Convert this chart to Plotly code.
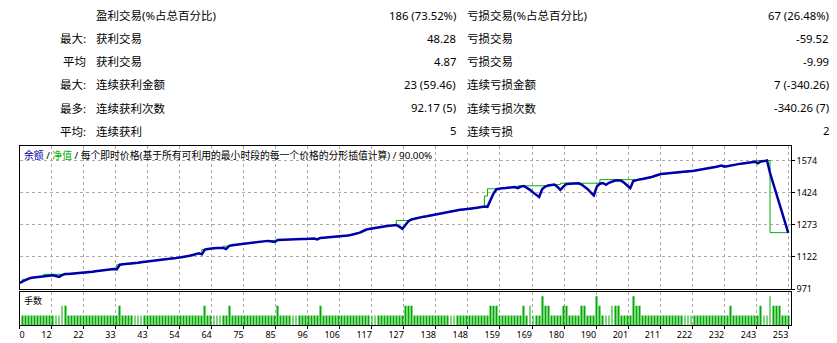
import re
import plotly.graph_objects as go

# ---------------- data ----------------
# balance after each trade (index 0 = initial deposit)
balance = [
    1000, 1008, 1015, 1020, 1024, 1026, 1027, 1029, 1030, 1031,
    1033, 1035, 1032, 1028, 1036, 1041, 1041, 1042, 1043, 1044,
    1045, 1046, 1048, 1050, 1052, 1054, 1056, 1058, 1060, 1062,
    1064, 1065, 1063, 1085, 1087, 1088, 1089, 1090, 1092, 1094,
    1097, 1099, 1101, 1103, 1105, 1107, 1109, 1110, 1111, 1112,
    1114, 1115, 1117, 1118, 1121, 1124, 1127, 1131, 1135, 1139,
    1134, 1156, 1159, 1162, 1163, 1164, 1165, 1164, 1159, 1174,
    1177, 1179, 1181, 1183, 1185, 1186, 1188, 1190, 1192, 1194,
    1195, 1196, 1197, 1193, 1192, 1201, 1202, 1203, 1203, 1204,
    1204, 1205, 1205, 1206, 1206, 1207, 1207, 1208, 1204, 1211,
    1212, 1213, 1213, 1214, 1216, 1217, 1218, 1220, 1222, 1225,
    1228, 1232, 1236, 1243, 1250, 1253, 1256, 1259, 1261, 1263,
    1265, 1267, 1269, 1271, 1272, 1264, 1254, 1272, 1290, 1298,
    1302, 1306, 1309, 1311, 1313, 1316, 1318, 1321, 1324, 1327,
    1330, 1334, 1337, 1340, 1342, 1343, 1345, 1346, 1348, 1350,
    1352, 1354, 1357, 1359, 1357, 1390, 1420, 1440, 1444, 1445,
    1446, 1447, 1448, 1450, 1445, 1452, 1455, 1447, 1437, 1425,
    1413, 1403, 1440, 1452, 1457, 1460, 1462, 1452, 1437, 1452,
    1465, 1466, 1467, 1467, 1468, 1462, 1453, 1440, 1425, 1411,
    1452, 1466, 1469, 1461, 1470, 1477, 1481, 1482, 1480, 1470,
    1458, 1445, 1478, 1483, 1486, 1488, 1490, 1493, 1497, 1502,
    1507, 1511, 1513, 1514, 1515, 1516, 1517, 1518, 1519, 1520,
    1522, 1525, 1527, 1530, 1533, 1536, 1538, 1540, 1542, 1544,
    1547, 1551, 1546, 1549, 1553, 1555, 1557, 1559, 1561, 1563,
    1565, 1567, 1569, 1562, 1570, 1572, 1575, 1516, 1470, 1424,
    1378, 1330, 1284, 1235,
]

# equity (drawn as a step line)
equity = [
    1000, 1016, 1018, 1020, 1024, 1026, 1027, 1029, 1040, 1040,
    1040, 1040, 1040, 1040, 1040, 1041, 1041, 1042, 1043, 1044,
    1045, 1046, 1048, 1050, 1052, 1054, 1056, 1058, 1060, 1062,
    1064, 1065, 1085, 1085, 1087, 1088, 1089, 1090, 1092, 1094,
    1097, 1099, 1101, 1103, 1105, 1107, 1109, 1110, 1111, 1112,
    1114, 1115, 1117, 1118, 1121, 1124, 1127, 1131, 1135, 1139,
    1157, 1157, 1159, 1162, 1163, 1164, 1165, 1172, 1172, 1174,
    1177, 1179, 1181, 1183, 1185, 1186, 1188, 1190, 1192, 1194,
    1195, 1196, 1197, 1199, 1200, 1201, 1202, 1203, 1203, 1204,
    1204, 1205, 1205, 1206, 1206, 1207, 1207, 1208, 1209, 1211,
    1212, 1213, 1213, 1214, 1216, 1217, 1218, 1220, 1222, 1225,
    1228, 1232, 1236, 1243, 1250, 1253, 1256, 1259, 1261, 1263,
    1265, 1267, 1269, 1271, 1293, 1293, 1293, 1293, 1293, 1298,
    1302, 1306, 1309, 1311, 1313, 1316, 1318, 1321, 1324, 1327,
    1330, 1334, 1337, 1340, 1342, 1343, 1345, 1346, 1348, 1350,
    1352, 1354, 1357, 1408, 1442, 1442, 1442, 1442, 1444, 1445,
    1446, 1447, 1448, 1450, 1456, 1456, 1456, 1456, 1456, 1456,
    1456, 1456, 1456, 1456, 1456, 1460, 1462, 1462, 1468, 1468,
    1468, 1468, 1468, 1468, 1468, 1468, 1468, 1468, 1468, 1468,
    1468, 1485, 1485, 1485, 1485, 1485, 1485, 1485, 1485, 1485,
    1485, 1485, 1485, 1485, 1486, 1488, 1490, 1493, 1497, 1502,
    1507, 1511, 1513, 1514, 1515, 1516, 1517, 1518, 1519, 1520,
    1522, 1525, 1527, 1530, 1533, 1536, 1538, 1540, 1542, 1544,
    1547, 1551, 1546, 1549, 1553, 1555, 1557, 1559, 1561, 1563,
    1565, 1567, 1575, 1575, 1575, 1575, 1575, 1236, 1236, 1236,
    1236, 1236, 1236, 1236,
]

# lot size of each trade 1..253 (in 0.01 lots)
lots = [
    1, 1, 1, 1, 1, 1, 1, 1, 1, 1,
    1, 1, 1, 2, 2, 1, 1, 1, 1, 1,
    1, 1, 1, 1, 1, 1, 1, 1, 1, 1,
    1, 1, 2, 1, 1, 1, 1, 1, 1, 1,
    1, 1, 1, 1, 1, 1, 1, 1, 1, 1,
    1, 1, 1, 1, 1, 1, 1, 1, 1, 1,
    2, 1, 1, 1, 1, 1, 1, 1, 2, 1,
    1, 1, 1, 1, 1, 1, 1, 1, 1, 1,
    1, 1, 1, 1, 2, 1, 1, 1, 1, 1,
    1, 1, 1, 1, 1, 1, 1, 1, 2, 1,
    1, 1, 1, 1, 1, 1, 1, 1, 1, 1,
    1, 1, 1, 1, 1, 1, 1, 1, 1, 1,
    1, 1, 1, 1, 1, 1, 2, 2, 2, 1,
    1, 1, 1, 1, 1, 1, 1, 1, 1, 1,
    1, 1, 1, 1, 1, 1, 1, 1, 1, 1,
    1, 1, 1, 1, 2, 2, 2, 1, 1, 1,
    1, 1, 1, 1, 1, 2, 1, 2, 1, 1,
    1, 3, 2, 2, 1, 1, 1, 1, 2, 2,
    1, 1, 1, 1, 2, 2, 1, 1, 1, 3,
    2, 1, 1, 1, 2, 2, 2, 1, 1, 1,
    1, 3, 2, 2, 1, 1, 1, 1, 1, 1,
    1, 1, 1, 1, 1, 1, 1, 1, 1, 1,
    1, 1, 1, 1, 1, 1, 1, 1, 1, 1,
    1, 1, 1, 2, 1, 1, 1, 1, 1, 1,
    1, 1, 1, 2, 1, 1, 3, 2, 2, 2,
    1, 1, 1,
]

x_tick_labels = ["0", "12", "22", "33", "43", "54", "64", "75", "85", "96", "106", "117", "127",
                 "138", "148", "159", "169", "180", "190", "201", "211", "222", "232", "243", "253"]
y_ticks = [971, 1122, 1273, 1424, 1574]

prefixes = ["", "最大:", "平均", "最大:", "最多:", "平均:"]
labels_win = ["盈利交易(%占总百分比)", "获利交易", "获利交易", "连续获利金额", "连续获利次数", "连续获利"]
values_win = ["186 (73.52%)", "48.28", "4.87", "23 (59.46)", "92.17 (5)", "5"]
labels_loss = ["亏损交易(%占总百分比)", "亏损交易", "亏损交易", "连续亏损金额", "连续亏损次数", "连续亏损"]
values_loss = ["67 (26.48%)", "-59.52", "-9.99", "7 (-340.26)", "-340.26 (7)", "2"]

# ---------------- figure ----------------
W, H = 837, 343
n_trades = len(balance) - 1
trade_idx = list(range(len(balance)))
trade_no = list(range(1, len(lots) + 1))
tickvals = [k * n_trades / (len(x_tick_labels) - 1) for k in range(len(x_tick_labels))]
fs = "\u2007"
ticktext = [fs + x_tick_labels[0]] + [t + fs * len(t) for t in x_tick_labels[1:]]

BLUE = "#0000AA"
GREEN = "#00B000"
GRID = "#ABABAB"
DASH = "3px,3px"
FONT = "Noto Sans, sans-serif"
CJK = "Noto Sans CJK SC"


def latin_spans(s):
    """Render ASCII punctuation / digits with the Latin font inside CJK text."""
    return re.sub(r"([ -~]+)", r'<span style="font-family:Noto Sans">\1</span>', s)


fig = go.Figure()
fig.add_trace(go.Scatter(x=trade_idx, y=equity, mode="lines",
                         line=dict(color=GREEN, width=1, shape="hv"),
                         xaxis="x", yaxis="y", hoverinfo="skip"))
fig.add_trace(go.Scatter(x=trade_idx, y=balance, mode="lines",
                         line=dict(color=BLUE, width=2.5),
                         xaxis="x", yaxis="y"))
fig.add_trace(go.Bar(x=trade_no, y=lots, width=0.3,
                     marker=dict(color="#00AA00", line_width=0),
                     xaxis="x2", yaxis="y2"))

xdom = [19.5 / W, 790.7 / W]
common_x = dict(domain=xdom, range=[0, 253.8], tickvals=tickvals, showgrid=True,
                gridcolor=GRID, griddash=DASH, gridwidth=1, zeroline=False,
                showline=True, mirror=True, linecolor="black", linewidth=1,
                automargin=False, layer="above traces")

fig.update_layout(
    width=W, height=H, margin=dict(l=0, r=0, t=0, b=0, autoexpand=False),
    paper_bgcolor="white", plot_bgcolor="white", showlegend=False,
    font=dict(family=FONT, color="black"),
    xaxis=dict(**common_x, anchor="y", showticklabels=False, ticks=""),
    yaxis=dict(domain=[(H - 289) / H, (H - 146) / H], range=[971, 1643],
               side="right", tickvals=y_ticks, ticktext=[str(v) for v in y_ticks],
               ticks="outside", ticklen=3, tickcolor="black",
               tickfont=dict(size=9, family=FONT), showgrid=True, gridcolor=GRID,
               griddash=DASH, gridwidth=1, zeroline=False, showline=True, mirror=True,
               linecolor="black", linewidth=1, anchor="x", automargin=False),
    xaxis2=dict(**common_x, anchor="y2", matches="x", ticktext=ticktext,
                ticks="outside", ticklen=3, tickcolor="black", tickangle=0,
                ticklabelstandoff=-2, tickfont=dict(size=9, family=FONT)),
    yaxis2=dict(domain=[(H - 325) / H, (H - 292) / H], range=[0, 3.45],
                showticklabels=False, ticks="", showgrid=False, zeroline=False,
                showline=True, mirror=True, linecolor="black", linewidth=1,
                anchor="x2", side="right", automargin=False),
)

annotations = []
row_y0, row_dy = 15, 23.15
for r in range(len(prefixes)):
    yp = 1 - (row_y0 + r * row_dy) / H
    cells = [
        (latin_spans(prefixes[r]), 88, "right", CJK, 11.5),
        (latin_spans(labels_win[r]), 94, "left", CJK, 11.5),
        (values_win[r], 458, "right", FONT, 11.3),
        (latin_spans(labels_loss[r]), 464.5, "left", CJK, 11.5),
        (values_loss[r], 831, "right", FONT, 11.3),
    ]
    for text, xp, anc, fam, sz in cells:
        if not text:
            continue
        annotations.append(dict(text=text, x=xp / W, y=yp, xref="paper", yref="paper",
                                xanchor=anc, yanchor="middle", showarrow=False,
                                font=dict(size=sz, family=fam, color="black")))

header = ('<span style="color:%s">余额</span>%s<span style="color:%s">净值</span>%s'
          % (BLUE, latin_spans(" / "), GREEN, latin_spans(" / "))
          + latin_spans("每个即时价格(基于所有可利用的最小时段的每一个价格的分形插值计算) / 90.00%"))
annotations.append(dict(text=header, x=22 / W, y=1 - 155 / H, xref="paper", yref="paper",
                        xanchor="left", yanchor="middle", showarrow=False,
                        font=dict(size=9.8, family=CJK, color="black")))
annotations.append(dict(text="手数", x=22 / W, y=1 - 300 / H, xref="paper", yref="paper",
                        xanchor="left", yanchor="middle", showarrow=False,
                        font=dict(size=9, family=CJK, color="black")))
fig.update_layout(annotations=annotations)

fig.write_html("out.html")
